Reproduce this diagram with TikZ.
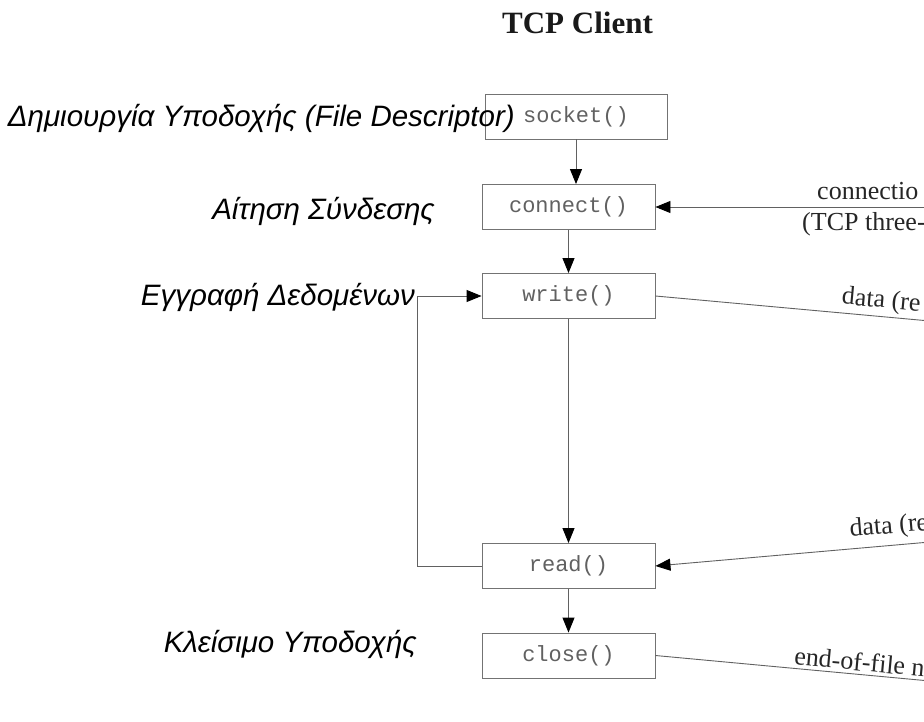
\documentclass[tikz,border=0pt]{standalone}
\usepackage{fontspec}
\setmainfont{Liberation Serif}
\setmonofont{Liberation Mono}
\newfontfamily\labelfont{Liberation Sans}
\usetikzlibrary{arrows.meta}

\begin{document}
\begin{tikzpicture}[x=1pt,y=-1pt,
  wire/.style={draw=black!62, line width=0.9pt},
  tip/.style={-{Triangle[length=15pt,width=12pt,color=black]}},
  backtip/.style={{Triangle[length=15pt,width=12pt,color=black]}-},
  callbox/.style={draw=black!55, line width=0.9pt, minimum width=173pt,
    minimum height=45pt, inner sep=0pt, text=black!62,
    font=\fontsize{22}{24}\selectfont\ttfamily},
  steplabel/.style={anchor=base east, inner sep=0pt, text=black,
    font=\labelfont\itshape\fontsize{29.5}{32}\selectfont},
  wirelabel/.style={inner sep=0pt, text=black!85,
    font=\fontsize{26}{30}\selectfont},
  heading/.style={anchor=base, inner sep=0pt, text=black!90,
    font=\fontsize{31}{36}\selectfont\bfseries}
]
\useasboundingbox (0,0) rectangle (924,721);
\clip (0,0) rectangle (924,721);

% title
\node[heading] (title) at (577.5,33) {TCP Client};

% system calls of the client
\node[callbox, minimum width=182pt] (socket) at (576,116.5) {socket()};
\node[callbox] (connect) at (568.5,207) {connect()};
\node[callbox] (write)   at (568.5,296) {write()};
\node[callbox] (read)    at (568.5,566) {read()};
\node[callbox] (close)   at (568.5,655.5) {close()};

% explanations on the left
\node[steplabel] (lsocket)  at (515,126) {Δημιουργία Υποδοχής (File Descriptor)};
\node[steplabel] (lconnect) at (435,219) {Αίτηση Σύνδεσης};
\node[steplabel] (lwrite)   at (415,305) {Εγγραφή Δεδομένων};
\node[steplabel] (lclose)   at (417,652) {Κλείσιμο Υποδοχής};

% control flow
\draw[wire, tip] (socket.south) -- (socket.south |- connect.north);
\draw[wire, tip] (connect) -- (write);
\draw[wire, tip] (write) -- (read);
\draw[wire, tip] (read) -- (close);
\coordinate (loop) at (417,566);
\draw[wire, tip] (read.west) -- (loop) |- (write.west);

% exchanges with the server side
\coordinate (cin)  at (930,207);
\coordinate (wout) at (930,321);
\coordinate (rin)  at (930,542);
\coordinate (cout) at (930,681);

\draw[wire, tip] (cin) -- (connect.east);
\node[wirelabel, anchor=base west] (lconn1) at (817,199) {connectio};
\node[wirelabel, anchor=base west] (lconn2) at (802,230) {(TCP three-};

\draw[wire] (write.east) -- (wout)
  node[wirelabel, pos=0.662, sloped, anchor=south west, inner sep=3pt] (lreq) {data (re};
\draw[wire, backtip] (read.east) -- (rin)
  node[wirelabel, pos=0.69, sloped, anchor=south west, inner sep=6pt] (lrep) {data (re};
\draw[wire] (close.east) -- (cout)
  node[wirelabel, pos=0.49, sloped, anchor=south west, inner sep=3pt] (leof) {end-of-file n};
\end{tikzpicture}
\end{document}
